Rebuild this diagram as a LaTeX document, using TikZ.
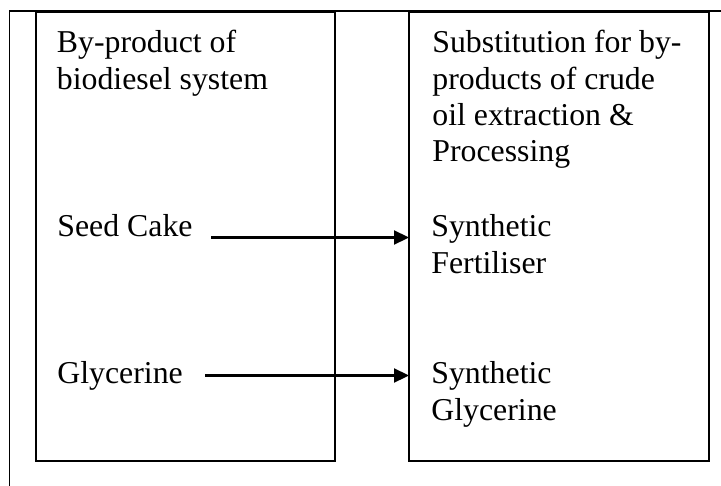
\documentclass[tikz,border=0pt]{standalone}
\usepackage{fontspec}
\setmainfont{Liberation Serif}
\usetikzlibrary{arrows.meta}
\tikzset{
  frame/.style={line width=0.8pt},
  panel/.style={line width=1pt},
  txt/.style={anchor=base west, inner sep=0pt, font=\fontsize{15.9}{18.3}\selectfont},
  link/.style={line width=1.1pt, -{Triangle[length=7.5pt,width=7pt]}}
}
\begin{document}
\begin{tikzpicture}[x=0.5pt,y=-0.5pt]
  \useasboundingbox (0,0) rectangle (721,486);
  % outer table rules
  \coordinate (fr) at (721,11);
  \coordinate (ftl) at (9.5,11);
  \coordinate (fb) at (9.5,486);
  \draw[frame] (fr) -- (ftl) -- (fb);

  % the two panels
  \coordinate (lnw) at (36,12);
  \coordinate (lse) at (335,461);
  \coordinate (rnw) at (409,12);
  \coordinate (rse) at (709,461);
  \draw[panel] (lnw) rectangle (lse);
  \draw[panel] (rnw) rectangle (rse);

  % left panel text
  \node[txt] (lh1) at (56.5,53) {By-product of};
  \node[txt] (lh2) at (56.5,90) {biodiesel system};
  \node[txt] (seed) at (57,236) {Seed Cake};
  \node[txt] (glyc) at (57,383) {Glycerine};

  % right panel text
  \node[txt] (rh1) at (432,53) {Substitution for by-};
  \node[txt] (rh2) at (432,90) {products of crude};
  \node[txt] (rh3) at (432,126) {oil extraction \&};
  \node[txt] (rh4) at (432,162) {Processing};
  \node[txt] (sf1) at (431,236) {Synthetic};
  \node[txt] (sf2) at (431,273) {Fertiliser};
  \node[txt] (sg1) at (431,383) {Synthetic};
  \node[txt] (sg2) at (431,420) {Glycerine};

  % arrows
  \coordinate (a1s) at (211,237.5);
  \coordinate (a1e) at (409,237.5);
  \coordinate (a2s) at (205,375.5);
  \coordinate (a2e) at (409,375.5);
  \draw[link] (a1s) -- (a1e);
  \draw[link] (a2s) -- (a2e);
\end{tikzpicture}
\end{document}
